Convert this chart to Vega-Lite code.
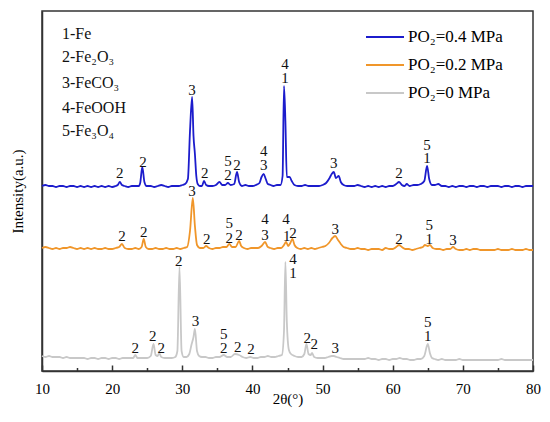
{
  "$schema": "https://vega.github.io/schema/vega-lite/v6.json",
  "width": 491,
  "height": 360,
  "autosize": {"type": "none"},
  "padding": {"left": 42, "top": 11, "right": 17, "bottom": 51},
  "background": "white",
  "config": {
    "view": {"stroke": "#333", "strokeWidth": 1.5},
    "font": "Liberation Serif, Times New Roman, serif",
    "axis": {"domainColor": "#333", "domainWidth": 1.5, "tickColor": "#333", "tickWidth": 1.5, "grid": false, "labelFont": "Liberation Serif, Times New Roman, serif", "titleFont": "Liberation Serif, Times New Roman, serif"},
    "legend": {
      "orient": "none",
      "legendX": 323,
      "legendY": 6,
      "symbolType": "stroke",
      "symbolSize": 1444,
      "symbolStrokeWidth": 2,
      "labelFont": "Liberation Serif, Times New Roman, serif",
      "labelFontSize": 17,
      "labelColor": "#000",
      "labelOffset": 3,
      "rowPadding": -11
    }
  },
  "datasets": {
    "xrd": [
      {"s":"b","t":10,"i":185},{"s":"b","t":10.5,"i":186},{"s":"b","t":11,"i":185},{"s":"b","t":11.5,"i":185},{"s":"b","t":12,"i":184},{"s":"b","t":12.5,"i":185},{"s":"b","t":13,"i":185},{"s":"b","t":13.5,"i":184},{"s":"b","t":14,"i":185},{"s":"b","t":14.5,"i":185},{"s":"b","t":15,"i":184},{"s":"b","t":15.5,"i":185},{"s":"b","t":16,"i":184},{"s":"b","t":16.5,"i":185},{"s":"b","t":17,"i":184},{"s":"b","t":17.5,"i":185},{"s":"b","t":18,"i":184},{"s":"b","t":18.5,"i":185},{"s":"b","t":19,"i":184},{"s":"b","t":19.5,"i":185},{"s":"b","t":20,"i":184},{"s":"b","t":20.5,"i":185},{"s":"b","t":20.8,"i":186},{"s":"b","t":21.1,"i":189},{"s":"b","t":21.4,"i":186},{"s":"b","t":21.8,"i":185},{"s":"b","t":22.3,"i":184},{"s":"b","t":22.8,"i":185},{"s":"b","t":23.3,"i":185},{"s":"b","t":23.8,"i":185},{"s":"b","t":24.0,"i":188},{"s":"b","t":24.3,"i":204},{"s":"b","t":24.6,"i":189},{"s":"b","t":24.9,"i":185},{"s":"b","t":25.5,"i":185},{"s":"b","t":26,"i":184},{"s":"b","t":26.5,"i":185},{"s":"b","t":27,"i":186},{"s":"b","t":27.5,"i":185},{"s":"b","t":28,"i":184},{"s":"b","t":28.5,"i":185},{"s":"b","t":29,"i":185},{"s":"b","t":29.5,"i":185},{"s":"b","t":30,"i":186},{"s":"b","t":30.4,"i":187},{"s":"b","t":30.8,"i":192},{"s":"b","t":31.1,"i":240},{"s":"b","t":31.4,"i":274},{"s":"b","t":31.6,"i":235},{"s":"b","t":31.8,"i":217},{"s":"b","t":32.0,"i":195},{"s":"b","t":32.2,"i":187},{"s":"b","t":32.5,"i":185},{"s":"b","t":32.8,"i":185},{"s":"b","t":33.1,"i":190},{"s":"b","t":33.4,"i":186},{"s":"b","t":33.8,"i":185},{"s":"b","t":34.3,"i":185},{"s":"b","t":34.8,"i":186},{"s":"b","t":35.3,"i":189},{"s":"b","t":35.7,"i":186},{"s":"b","t":36.1,"i":186},{"s":"b","t":36.5,"i":188},{"s":"b","t":36.9,"i":186},{"s":"b","t":37.4,"i":187},{"s":"b","t":37.8,"i":199},{"s":"b","t":38.1,"i":189},{"s":"b","t":38.5,"i":185},{"s":"b","t":39,"i":186},{"s":"b","t":39.5,"i":185},{"s":"b","t":40,"i":185},{"s":"b","t":40.5,"i":186},{"s":"b","t":41,"i":188},{"s":"b","t":41.3,"i":194},{"s":"b","t":41.6,"i":197},{"s":"b","t":41.9,"i":192},{"s":"b","t":42.2,"i":187},{"s":"b","t":42.6,"i":186},{"s":"b","t":43,"i":185},{"s":"b","t":43.5,"i":186},{"s":"b","t":44,"i":186},{"s":"b","t":44.3,"i":195},{"s":"b","t":44.5,"i":285},{"s":"b","t":44.7,"i":250},{"s":"b","t":44.9,"i":194},{"s":"b","t":45.3,"i":194},{"s":"b","t":45.6,"i":190},{"s":"b","t":46,"i":186},{"s":"b","t":46.5,"i":185},{"s":"b","t":47,"i":185},{"s":"b","t":47.5,"i":186},{"s":"b","t":48,"i":185},{"s":"b","t":48.5,"i":185},{"s":"b","t":49,"i":185},{"s":"b","t":49.5,"i":185},{"s":"b","t":50,"i":186},{"s":"b","t":50.5,"i":188},{"s":"b","t":51,"i":193},{"s":"b","t":51.3,"i":197},{"s":"b","t":51.6,"i":199},{"s":"b","t":51.9,"i":193},{"s":"b","t":52.3,"i":195},{"s":"b","t":52.6,"i":189},{"s":"b","t":53,"i":186},{"s":"b","t":53.5,"i":185},{"s":"b","t":54,"i":185},{"s":"b","t":54.5,"i":185},{"s":"b","t":55,"i":186},{"s":"b","t":55.5,"i":185},{"s":"b","t":56,"i":184},{"s":"b","t":56.5,"i":185},{"s":"b","t":57,"i":184},{"s":"b","t":57.5,"i":185},{"s":"b","t":58,"i":184},{"s":"b","t":58.5,"i":185},{"s":"b","t":59,"i":184},{"s":"b","t":59.5,"i":185},{"s":"b","t":60,"i":185},{"s":"b","t":60.5,"i":187},{"s":"b","t":60.9,"i":189},{"s":"b","t":61.3,"i":186},{"s":"b","t":61.7,"i":185},{"s":"b","t":62,"i":187},{"s":"b","t":62.4,"i":185},{"s":"b","t":63,"i":186},{"s":"b","t":63.5,"i":186},{"s":"b","t":64,"i":187},{"s":"b","t":64.5,"i":190},{"s":"b","t":64.9,"i":205},{"s":"b","t":65.2,"i":192},{"s":"b","t":65.6,"i":186},{"s":"b","t":66,"i":186},{"s":"b","t":66.5,"i":187},{"s":"b","t":67,"i":185},{"s":"b","t":67.5,"i":185},{"s":"b","t":68,"i":184},{"s":"b","t":68.5,"i":185},{"s":"b","t":69,"i":184},{"s":"b","t":69.5,"i":185},{"s":"b","t":70,"i":185},{"s":"b","t":70.5,"i":184},{"s":"b","t":71,"i":185},{"s":"b","t":71.5,"i":185},{"s":"b","t":72,"i":184},{"s":"b","t":72.5,"i":185},{"s":"b","t":73,"i":185},{"s":"b","t":73.5,"i":184},{"s":"b","t":74,"i":185},{"s":"b","t":74.5,"i":185},{"s":"b","t":75,"i":185},{"s":"b","t":75.5,"i":184},{"s":"b","t":76,"i":185},{"s":"b","t":76.5,"i":185},{"s":"b","t":77,"i":184},{"s":"b","t":77.5,"i":185},{"s":"b","t":78,"i":185},{"s":"b","t":78.5,"i":184},{"s":"b","t":79,"i":185},{"s":"b","t":79.5,"i":185},{"s":"b","t":80,"i":185},
      {"s":"o","t":10,"i":123},{"s":"o","t":10.5,"i":124},{"s":"o","t":11,"i":123},{"s":"o","t":11.5,"i":122},{"s":"o","t":12,"i":123},{"s":"o","t":12.5,"i":122},{"s":"o","t":13,"i":123},{"s":"o","t":13.5,"i":123},{"s":"o","t":14,"i":124},{"s":"o","t":14.5,"i":123},{"s":"o","t":15,"i":122},{"s":"o","t":15.5,"i":123},{"s":"o","t":16,"i":122},{"s":"o","t":16.5,"i":123},{"s":"o","t":17,"i":122},{"s":"o","t":17.5,"i":123},{"s":"o","t":18,"i":122},{"s":"o","t":18.5,"i":122},{"s":"o","t":19,"i":123},{"s":"o","t":19.5,"i":122},{"s":"o","t":20,"i":122},{"s":"o","t":20.5,"i":123},{"s":"o","t":21,"i":124},{"s":"o","t":21.4,"i":127},{"s":"o","t":21.8,"i":123},{"s":"o","t":22.3,"i":122},{"s":"o","t":22.8,"i":122},{"s":"o","t":23.3,"i":123},{"s":"o","t":23.8,"i":122},{"s":"o","t":24.2,"i":124},{"s":"o","t":24.5,"i":132},{"s":"o","t":24.8,"i":124},{"s":"o","t":25.2,"i":122},{"s":"o","t":25.7,"i":122},{"s":"o","t":26.2,"i":123},{"s":"o","t":26.7,"i":122},{"s":"o","t":27.2,"i":122},{"s":"o","t":27.7,"i":123},{"s":"o","t":28.2,"i":122},{"s":"o","t":28.7,"i":122},{"s":"o","t":29.2,"i":123},{"s":"o","t":29.7,"i":122},{"s":"o","t":30.2,"i":123},{"s":"o","t":30.7,"i":124},{"s":"o","t":31.1,"i":140},{"s":"o","t":31.5,"i":173},{"s":"o","t":31.8,"i":145},{"s":"o","t":32.1,"i":126},{"s":"o","t":32.5,"i":123},{"s":"o","t":33,"i":123},{"s":"o","t":33.4,"i":125},{"s":"o","t":33.8,"i":123},{"s":"o","t":34.3,"i":122},{"s":"o","t":34.8,"i":123},{"s":"o","t":35.3,"i":123},{"s":"o","t":35.8,"i":124},{"s":"o","t":36.3,"i":124},{"s":"o","t":36.7,"i":127},{"s":"o","t":37.1,"i":124},{"s":"o","t":37.6,"i":124},{"s":"o","t":38.1,"i":130},{"s":"o","t":38.4,"i":125},{"s":"o","t":38.8,"i":123},{"s":"o","t":39.3,"i":122},{"s":"o","t":39.8,"i":123},{"s":"o","t":40.3,"i":123},{"s":"o","t":40.8,"i":123},{"s":"o","t":41.3,"i":125},{"s":"o","t":41.8,"i":129},{"s":"o","t":42.2,"i":124},{"s":"o","t":42.6,"i":123},{"s":"o","t":43.1,"i":122},{"s":"o","t":43.6,"i":123},{"s":"o","t":44.1,"i":123},{"s":"o","t":44.5,"i":126},{"s":"o","t":44.8,"i":129},{"s":"o","t":45.1,"i":125},{"s":"o","t":45.4,"i":128},{"s":"o","t":45.7,"i":132},{"s":"o","t":46,"i":126},{"s":"o","t":46.4,"i":123},{"s":"o","t":46.9,"i":122},{"s":"o","t":47.4,"i":123},{"s":"o","t":47.9,"i":122},{"s":"o","t":48.4,"i":123},{"s":"o","t":48.9,"i":122},{"s":"o","t":49.4,"i":123},{"s":"o","t":49.9,"i":124},{"s":"o","t":50.4,"i":125},{"s":"o","t":50.9,"i":128},{"s":"o","t":51.4,"i":133},{"s":"o","t":51.8,"i":135},{"s":"o","t":52.2,"i":131},{"s":"o","t":52.6,"i":127},{"s":"o","t":53,"i":124},{"s":"o","t":53.5,"i":123},{"s":"o","t":54,"i":122},{"s":"o","t":54.5,"i":122},{"s":"o","t":55,"i":123},{"s":"o","t":55.5,"i":122},{"s":"o","t":56,"i":122},{"s":"o","t":56.5,"i":121},{"s":"o","t":57,"i":122},{"s":"o","t":57.5,"i":122},{"s":"o","t":58,"i":122},{"s":"o","t":58.5,"i":121},{"s":"o","t":59,"i":123},{"s":"o","t":59.5,"i":122},{"s":"o","t":60,"i":122},{"s":"o","t":60.5,"i":124},{"s":"o","t":60.9,"i":126},{"s":"o","t":61.3,"i":124},{"s":"o","t":61.8,"i":122},{"s":"o","t":62.3,"i":122},{"s":"o","t":62.8,"i":121},{"s":"o","t":63.3,"i":122},{"s":"o","t":63.8,"i":123},{"s":"o","t":64.3,"i":124},{"s":"o","t":64.6,"i":126},{"s":"o","t":65,"i":125},{"s":"o","t":65.3,"i":126},{"s":"o","t":65.7,"i":123},{"s":"o","t":66.2,"i":122},{"s":"o","t":66.7,"i":122},{"s":"o","t":67.2,"i":121},{"s":"o","t":67.7,"i":122},{"s":"o","t":68.2,"i":122},{"s":"o","t":68.6,"i":124},{"s":"o","t":69,"i":122},{"s":"o","t":69.5,"i":121},{"s":"o","t":70,"i":121},{"s":"o","t":70.5,"i":122},{"s":"o","t":71,"i":121},{"s":"o","t":71.5,"i":122},{"s":"o","t":72,"i":122},{"s":"o","t":72.5,"i":121},{"s":"o","t":73,"i":121},{"s":"o","t":73.5,"i":121},{"s":"o","t":74,"i":121},{"s":"o","t":74.5,"i":121},{"s":"o","t":75,"i":122},{"s":"o","t":75.5,"i":121},{"s":"o","t":76,"i":121},{"s":"o","t":76.5,"i":121},{"s":"o","t":77,"i":122},{"s":"o","t":77.5,"i":121},{"s":"o","t":78,"i":121},{"s":"o","t":78.5,"i":121},{"s":"o","t":79,"i":122},{"s":"o","t":79.5,"i":121},{"s":"o","t":80,"i":121},
      {"s":"g","t":10,"i":15},{"s":"g","t":10.5,"i":14},{"s":"g","t":11,"i":15},{"s":"g","t":11.5,"i":14},{"s":"g","t":12,"i":14},{"s":"g","t":12.5,"i":14},{"s":"g","t":13,"i":13},{"s":"g","t":13.5,"i":14},{"s":"g","t":14,"i":13},{"s":"g","t":14.5,"i":13},{"s":"g","t":15,"i":13},{"s":"g","t":15.5,"i":13},{"s":"g","t":16,"i":13},{"s":"g","t":16.5,"i":12},{"s":"g","t":17,"i":13},{"s":"g","t":17.5,"i":13},{"s":"g","t":18,"i":12},{"s":"g","t":18.5,"i":13},{"s":"g","t":19,"i":13},{"s":"g","t":19.5,"i":12},{"s":"g","t":20,"i":13},{"s":"g","t":20.5,"i":13},{"s":"g","t":21,"i":12},{"s":"g","t":21.5,"i":13},{"s":"g","t":22,"i":13},{"s":"g","t":22.5,"i":13},{"s":"g","t":23,"i":13},{"s":"g","t":23.3,"i":16},{"s":"g","t":23.6,"i":13},{"s":"g","t":24,"i":13},{"s":"g","t":24.5,"i":13},{"s":"g","t":25,"i":13},{"s":"g","t":25.5,"i":15},{"s":"g","t":25.9,"i":27},{"s":"g","t":26.2,"i":16},{"s":"g","t":26.5,"i":15},{"s":"g","t":26.7,"i":18},{"s":"g","t":27,"i":14},{"s":"g","t":27.5,"i":13},{"s":"g","t":28,"i":13},{"s":"g","t":28.5,"i":13},{"s":"g","t":29,"i":14},{"s":"g","t":29.3,"i":20},{"s":"g","t":29.6,"i":104},{"s":"g","t":29.9,"i":20},{"s":"g","t":30.2,"i":14},{"s":"g","t":30.6,"i":14},{"s":"g","t":31,"i":17},{"s":"g","t":31.3,"i":26},{"s":"g","t":31.6,"i":34},{"s":"g","t":31.8,"i":42},{"s":"g","t":32.1,"i":20},{"s":"g","t":32.4,"i":15},{"s":"g","t":32.8,"i":14},{"s":"g","t":33.3,"i":14},{"s":"g","t":33.8,"i":13},{"s":"g","t":34.3,"i":13},{"s":"g","t":34.8,"i":14},{"s":"g","t":35.3,"i":14},{"s":"g","t":35.9,"i":16},{"s":"g","t":36.4,"i":14},{"s":"g","t":36.9,"i":14},{"s":"g","t":37.5,"i":17},{"s":"g","t":38.1,"i":16},{"s":"g","t":38.6,"i":14},{"s":"g","t":39.1,"i":13},{"s":"g","t":39.7,"i":14},{"s":"g","t":40.2,"i":13},{"s":"g","t":40.7,"i":13},{"s":"g","t":41.2,"i":14},{"s":"g","t":41.7,"i":14},{"s":"g","t":42.2,"i":15},{"s":"g","t":42.7,"i":14},{"s":"g","t":43.2,"i":14},{"s":"g","t":43.7,"i":15},{"s":"g","t":44.2,"i":16},{"s":"g","t":44.5,"i":40},{"s":"g","t":44.7,"i":109},{"s":"g","t":44.9,"i":50},{"s":"g","t":45.2,"i":21},{"s":"g","t":45.5,"i":17},{"s":"g","t":46,"i":15},{"s":"g","t":46.5,"i":14},{"s":"g","t":47,"i":14},{"s":"g","t":47.4,"i":17},{"s":"g","t":47.7,"i":27},{"s":"g","t":48,"i":17},{"s":"g","t":48.3,"i":16},{"s":"g","t":48.5,"i":18},{"s":"g","t":48.8,"i":14},{"s":"g","t":49.3,"i":13},{"s":"g","t":49.8,"i":13},{"s":"g","t":50.3,"i":13},{"s":"g","t":50.8,"i":14},{"s":"g","t":51.3,"i":15},{"s":"g","t":51.6,"i":15},{"s":"g","t":52,"i":14},{"s":"g","t":52.5,"i":13},{"s":"g","t":53,"i":12},{"s":"g","t":53.5,"i":12},{"s":"g","t":54,"i":12},{"s":"g","t":54.5,"i":12},{"s":"g","t":55,"i":12},{"s":"g","t":55.5,"i":12},{"s":"g","t":56,"i":12},{"s":"g","t":56.5,"i":13},{"s":"g","t":57,"i":12},{"s":"g","t":57.5,"i":12},{"s":"g","t":58,"i":11},{"s":"g","t":58.5,"i":12},{"s":"g","t":59,"i":12},{"s":"g","t":59.5,"i":11},{"s":"g","t":60,"i":12},{"s":"g","t":60.5,"i":12},{"s":"g","t":61,"i":13},{"s":"g","t":61.5,"i":12},{"s":"g","t":62,"i":12},{"s":"g","t":62.5,"i":11},{"s":"g","t":63,"i":11},{"s":"g","t":63.5,"i":12},{"s":"g","t":64,"i":12},{"s":"g","t":64.5,"i":15},{"s":"g","t":65,"i":27},{"s":"g","t":65.3,"i":18},{"s":"g","t":65.6,"i":13},{"s":"g","t":66,"i":12},{"s":"g","t":66.5,"i":11},{"s":"g","t":67,"i":12},{"s":"g","t":67.5,"i":11},{"s":"g","t":68,"i":11},{"s":"g","t":68.5,"i":11},{"s":"g","t":69,"i":11},{"s":"g","t":69.5,"i":12},{"s":"g","t":70,"i":11},{"s":"g","t":70.5,"i":11},{"s":"g","t":71,"i":11},{"s":"g","t":71.5,"i":11},{"s":"g","t":72,"i":11},{"s":"g","t":72.5,"i":11},{"s":"g","t":73,"i":11},{"s":"g","t":73.5,"i":11},{"s":"g","t":74,"i":11},{"s":"g","t":74.5,"i":11},{"s":"g","t":75,"i":11},{"s":"g","t":75.5,"i":12},{"s":"g","t":76,"i":11},{"s":"g","t":76.5,"i":11},{"s":"g","t":77,"i":11},{"s":"g","t":77.5,"i":11},{"s":"g","t":78,"i":11},{"s":"g","t":78.5,"i":11},{"s":"g","t":79,"i":11},{"s":"g","t":79.5,"i":11},{"s":"g","t":80,"i":11}
    ],
    "peaks": [
      {"t":21.1,"i":198,"n":"2"},{"t":24.4,"i":209,"n":"2"},{"t":31.4,"i":281,"n":"3"},{"t":33.2,"i":198,"n":"2"},{"t":36.5,"i":210,"n":"5"},{"t":36.5,"i":196,"n":"2"},{"t":37.8,"i":206,"n":"2"},{"t":41.6,"i":220,"n":"4"},{"t":41.6,"i":206,"n":"3"},{"t":44.65,"i":307,"n":"4"},{"t":44.65,"i":293,"n":"1"},{"t":51.6,"i":208,"n":"3"},{"t":60.9,"i":198,"n":"2"},{"t":64.9,"i":226,"n":"5"},{"t":64.9,"i":213,"n":"1"},
      {"t":31.4,"i":180,"n":"3"},{"t":21.4,"i":135,"n":"2"},{"t":24.5,"i":139,"n":"2"},{"t":33.5,"i":132,"n":"2"},{"t":36.7,"i":148,"n":"5"},{"t":36.7,"i":133,"n":"2"},{"t":38.1,"i":136,"n":"2"},{"t":41.8,"i":152,"n":"4"},{"t":41.8,"i":136,"n":"3"},{"t":44.8,"i":152,"n":"4"},{"t":44.9,"i":135,"n":"1"},{"t":45.8,"i":138,"n":"2"},{"t":51.8,"i":142,"n":"3"},{"t":60.9,"i":132,"n":"2"},{"t":65.2,"i":146,"n":"5"},{"t":65.2,"i":132,"n":"1"},{"t":68.6,"i":131,"n":"3"},
      {"t":29.5,"i":110,"n":"2"},{"t":31.9,"i":50,"n":"3"},{"t":23.3,"i":23,"n":"2"},{"t":25.8,"i":35,"n":"2"},{"t":27.0,"i":23,"n":"2"},{"t":35.9,"i":37,"n":"5"},{"t":35.9,"i":23,"n":"2"},{"t":37.9,"i":24,"n":"2"},{"t":39.8,"i":22,"n":"2"},{"t":45.8,"i":112,"n":"4"},{"t":45.8,"i":98,"n":"1"},{"t":47.8,"i":33,"n":"2"},{"t":48.8,"i":27,"n":"2"},{"t":51.8,"i":23,"n":"3"},{"t":65.0,"i":49,"n":"5"},{"t":65.0,"i":35,"n":"1"}
    ],
    "keys": [
      {"t":12.85,"i":337,"n":"1-Fe"},
      {"t":12.85,"i":314,"n":"2-Fe₂O₃"},
      {"t":12.85,"i":288,"n":"3-FeCO₃"},
      {"t":12.85,"i":263,"n":"4-FeOOH"},
      {"t":12.85,"i":240,"n":"5-Fe₃O₄"}
    ]
  },
  "resolve": {"axis": {"x": "independent"}},
  "layer": [
    {
      "data": {"name": "xrd"},
      "mark": {"type": "line", "strokeWidth": 1.8, "interpolate": "monotone"},
      "encoding": {
        "x": {
          "field": "t", "type": "quantitative",
          "scale": {"domain": [10, 80], "nice": false, "zero": false},
          "axis": {"title": "2θ(°)", "values": [10, 20, 30, 40, 50, 60, 70, 80], "tickSize": -6, "labelPadding": 16, "labelFontSize": 15, "labelColor": "#000", "titleFontSize": 15, "titleFontWeight": "normal", "titleColor": "#000", "titlePadding": -5, "labelFlush": false}
        },
        "y": {
          "field": "i", "type": "quantitative",
          "scale": {"domain": [0, 360], "nice": false},
          "axis": {"title": "Intensity(a.u.)", "ticks": false, "labels": false, "titleFontSize": 15, "titleFontWeight": "normal", "titleColor": "#000", "titlePadding": 17}
        },
        "color": {
          "field": "s", "type": "nominal",
          "scale": {"domain": ["b", "o", "g"], "range": ["#1c1ccc", "#f0962a", "#c8c8c8"]},
          "legend": {"title": null, "labelExpr": "datum.label == 'b' ? 'PO₂=0.4 MPa' : datum.label == 'o' ? 'PO₂=0.2 MPa' : 'PO₂=0 MPa'"}
        }
      }
    },
    {
      "data": {"name": "peaks"},
      "mark": {"type": "text", "font": "Liberation Serif, Times New Roman, serif", "fontSize": 15, "baseline": "middle", "align": "center", "color": "#111"},
      "encoding": {
        "x": {
          "field": "t", "type": "quantitative",
          "axis": {"orient": "bottom", "values": [15, 25, 35, 45, 55, 65, 75], "labels": false, "domain": false, "tickSize": -3.5, "title": null}
        },
        "y": {"field": "i", "type": "quantitative"},
        "text": {"field": "n"}
      }
    },
    {
      "data": {"name": "keys"},
      "mark": {"type": "text", "font": "Liberation Serif, Times New Roman, serif", "fontSize": 16, "baseline": "middle", "align": "left", "color": "#111"},
      "encoding": {
        "x": {"field": "t", "type": "quantitative", "axis": null},
        "y": {"field": "i", "type": "quantitative"},
        "text": {"field": "n"}
      }
    }
  ]
}
